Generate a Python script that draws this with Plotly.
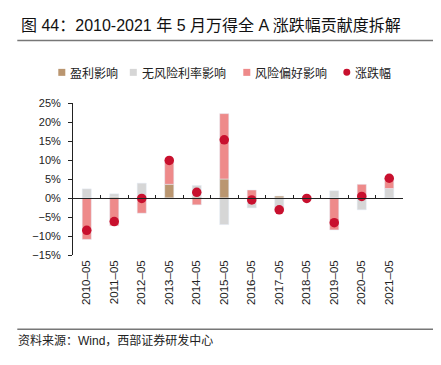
import plotly.graph_objects as go

dates = ["2010–05", "2011–05", "2012–05", "2013–05", "2014–05", "2015–05",
         "2016–05", "2017–05", "2018–05", "2019–05", "2020–05", "2021–05"]
earnings = [-0.1, 0.3, 0.0, 3.6, 0.3, 5.0, 0.0, 0.5, 0.2, 0.0, 0.2, 0.0]
risk_free = [2.4, 0.8, 3.9, -0.2, 3.0, -7.0, -2.6, -2.2, -0.5, 1.9, -3.1, 2.5]
risk_pref = [-10.8, -7.3, -4.0, 6.3, -1.8, 17.2, 2.1, -1.4, 0.2, -8.4, 3.4, 2.7]
change = [-8.5, -6.2, -0.1, 9.9, 1.5, 15.3, -0.5, -3.1, -0.1, -6.5, 0.4, 5.2]
y_ticks = [-15, -10, -5, 0, 5, 10, 15, 20, 25]

C_BROWN = "#BA9670"
C_GREY = "#D6D6D6"
C_PINK = "#EE8A8A"
C_RED = "#C8102E"
FONT = "Liberation Sans, Arial, Noto Sans CJK SC, sans-serif"
CJK = "Noto Sans CJK SC, sans-serif"

# page is rendered with the browser's default 8px body margin
OFF = 8
W, H = 441 - OFF, 365 - OFF
# plot area in page pixels
P_L, P_R, P_T, P_B = 72.7, 402.7, 102.7, 255.0
ML, MR, MT, MB = P_L - OFF, W - (P_R - OFF), P_T - OFF, H - (P_B - OFF)
PW, PH = W - ML - MR, H - MT - MB


def px(x):
    return (x - OFF - ML) / PW


def py(y):
    return (H - MB - (y - OFF)) / PH


fig = go.Figure()
fig.add_bar(x=dates, y=earnings, name="盈利影响", marker_color=C_BROWN, width=0.33)
fig.add_bar(x=dates, y=risk_free, name="无风险利率影响", marker_color=C_GREY, width=0.33)
fig.add_bar(x=dates, y=risk_pref, name="风险偏好影响", marker_color=C_PINK, width=0.33)
fig.add_scatter(x=dates, y=change, name="涨跌幅", mode="markers",
                marker=dict(color=C_RED, size=9.5))

n = len(dates)
zero_pos = (0 - y_ticks[0]) / (y_ticks[-1] - y_ticks[0])

fig.update_layout(
    width=W, height=H,
    margin=dict(l=ML, r=MR, t=MT, b=MB, autoexpand=False),
    paper_bgcolor="white", plot_bgcolor="white",
    barmode="relative",
    showlegend=False,
    font=dict(family=FONT, color="#222", size=11),
    xaxis=dict(type="category", categoryorder="array", categoryarray=dates,
               range=[-0.5, n - 0.5], tickangle=-90, showline=False, ticks="",
               showgrid=False, zeroline=False, ticklabelstandoff=2,
               tickfont=dict(size=11.5, color="#222")),
    xaxis2=dict(overlaying="x", anchor="free", position=zero_pos, side="bottom",
                range=[-0.5, n - 0.5], showline=True, linecolor="#222", linewidth=1,
                ticks="inside", ticklen=3, tickcolor="#222",
                tickvals=[i + 0.5 for i in range(n)], showticklabels=False,
                showgrid=False, zeroline=False),
    yaxis=dict(range=[y_ticks[0], y_ticks[-1]], tickvals=y_ticks,
               ticktext=[("−" if v < 0 else "") + f"{abs(v)}%" for v in y_ticks],
               showgrid=False, zeroline=False, showline=True, linecolor="#222",
               linewidth=1, ticks="outside", ticklen=4, tickcolor="#222",
               ticklabelstandoff=5, tickfont=dict(size=11, color="#222")),
)

# invisible trace to activate xaxis2
fig.add_scatter(x=[0], y=[0], xaxis="x2", mode="markers", marker=dict(opacity=0),
                hoverinfo="skip", showlegend=False)

shapes = []
annotations = []
# title
annotations.append(dict(text="图 44：2010-2021 年 5 月万得全 A 涨跌幅贡献度拆解",
                        x=px(19), y=py(25), xref="paper", yref="paper",
                        xanchor="left", yanchor="middle", showarrow=False,
                        font=dict(size=16, color="#111", family=FONT)))
shapes.append(dict(type="line", xref="paper", yref="paper", x0=px(17), x1=px(433),
                   y0=py(40), y1=py(40), line=dict(color="#777", width=1.5)))
shapes.append(dict(type="line", xref="paper", yref="paper", x0=px(17), x1=px(433),
                   y0=py(329.5), y1=py(329.5), line=dict(color="#777", width=1.5)))
annotations.append(dict(text="资料来源：Wind，西部证券研发中心",
                        x=px(16), y=py(341), xref="paper", yref="paper",
                        xanchor="left", yanchor="middle", showarrow=False,
                        font=dict(size=12, color="#222", family=FONT)))

# legend
leg_y = 72
items = [("盈利影响", C_BROWN, 58, "sq"), ("无风险利率影响", C_GREY, 129.5, "sq"),
         ("风险偏好影响", C_PINK, 243, "sq"), ("涨跌幅", C_RED, 343, "dot")]
for text, col, x0, kind in items:
    s = 7
    shapes.append(dict(type="rect" if kind == "sq" else "circle", xref="paper", yref="paper",
                       x0=px(x0), x1=px(x0 + s), y0=py(leg_y - s / 2), y1=py(leg_y + s / 2),
                       fillcolor=col, line=dict(width=0)))
    annotations.append(dict(text=text, x=px(x0 + s + 3), y=py(leg_y), xref="paper", yref="paper",
                            xanchor="left", yanchor="middle", showarrow=False,
                            font=dict(size=12, color="#222", family=CJK)))

fig.update_layout(shapes=shapes, annotations=annotations)
fig.write_html("out.html")
